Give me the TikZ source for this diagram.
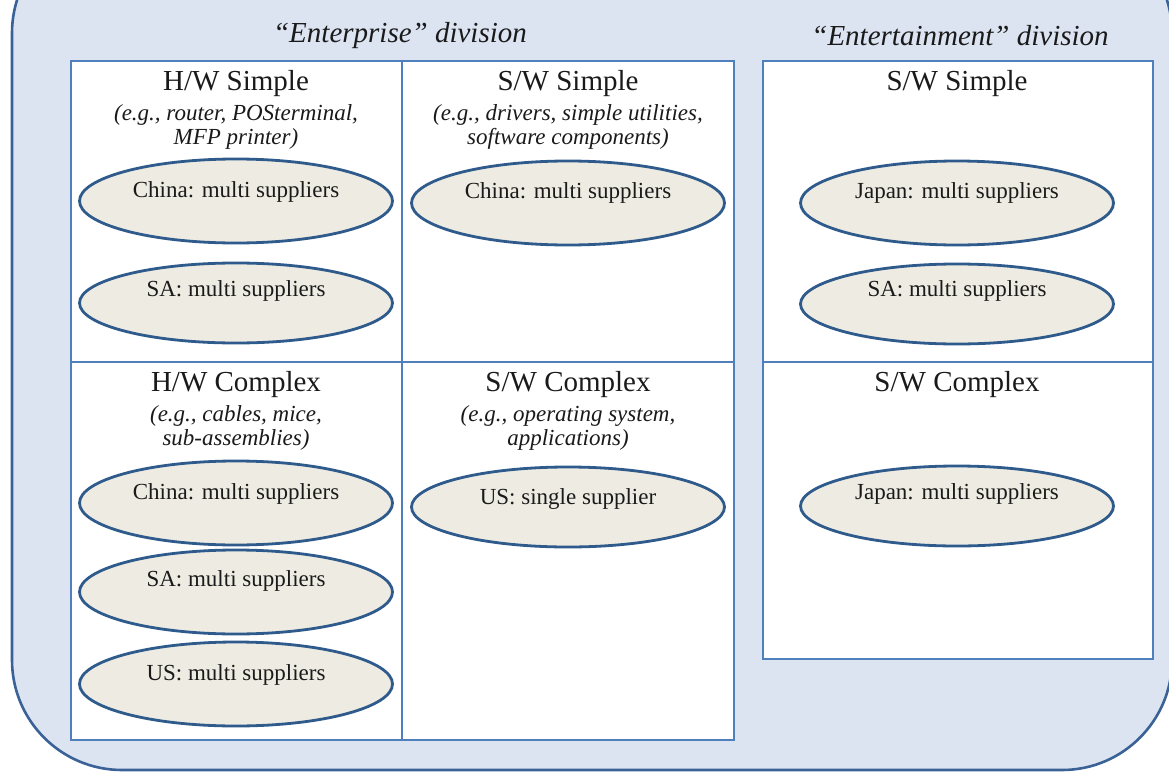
\documentclass[tikz,border=0pt]{standalone}
\usepackage{fontspec}
\setmainfont{Liberation Serif}
\usetikzlibrary{shapes.geometric}
\definecolor{panelfill}{HTML}{DCE4F2}
\definecolor{paneledge}{HTML}{3A6296}
\definecolor{gridedge}{HTML}{4F7FBC}
\definecolor{ovalfill}{HTML}{EEECE2}
\definecolor{ovaledge}{HTML}{2F5A8C}
\definecolor{ink}{HTML}{1A1A1A}
\tikzset{
  panel/.style={draw=paneledge, line width=2.6pt, fill=panelfill, rounded corners=110pt},
  cell/.style={draw=gridedge, line width=2.4pt, fill=white},
  divlabel/.style={font=\fontsize{29}{32}\selectfont\itshape, text=ink},
  celltitle/.style={font=\fontsize{29}{32}\selectfont, text=ink},
  example/.style={font=\fontsize{23}{24.5}\selectfont\itshape, text=ink, align=center, anchor=north},
  supplier/.style={ellipse, draw=ovaledge, line width=2.8pt, fill=ovalfill,
    minimum width=313pt, minimum height=84pt, inner sep=0pt},
  oval/.style={font=\fontsize{23}{26}\selectfont, text=ink}
}
\begin{document}
\begin{tikzpicture}[x=1pt,y=-1pt]
\useasboundingbox (0,0) rectangle (1169,773);
\clip (0,0) rectangle (1169,773);
% background panel
\draw[panel] (12,-77) rectangle (1172,770);

% division captions
\node[divlabel] (entdiv) at (400,36) {``Enterprise'' division};
\node[divlabel] (entmdiv) at (960,36) {``Entertainment'' division};

% enterprise grid
\draw[cell] (71,61) rectangle (734,740);
\draw[gridedge, line width=2.4pt] (402,61) -- (402,740);
\draw[gridedge, line width=2.4pt] (71,362) -- (734,362);

% entertainment grid
\draw[cell] (763,61) rectangle (1153,659);
\draw[gridedge, line width=2.4pt] (763,362) -- (1153,362);

% cell headings
\node[celltitle] (hws) at (236,84) {H/W Simple};
\node[example] (hwsx) at (236,101) {(e.g., router, POSterminal,\\MFP printer)};
\node[celltitle] (sws) at (568,84) {S/W Simple};
\node[example] (swsx) at (568,101) {(e.g., drivers, simple utilities,\\software components)};
\node[celltitle] (hwc) at (236,385) {H/W Complex};
\node[example] (hwcx) at (236,402) {(e.g., cables, mice,\\sub-assemblies)};
\node[celltitle] (swc) at (568,385) {S/W Complex};
\node[example] (swcx) at (568,402) {(e.g., operating system,\\applications)};
\node[celltitle] (ess) at (957,84) {S/W Simple};
\node[celltitle] (esc) at (957,385) {S/W Complex};

% supplier ovals
\node[supplier, label={[oval, yshift=9pt]center:China: multi suppliers}] (o1) at (236,201) {};
\node[supplier, minimum height=80pt, label={[oval, yshift=12pt]center:SA: multi suppliers}] (o2) at (236,303) {};
\node[supplier, label={[oval, yshift=10pt]center:China: multi suppliers}] (o3) at (568,203) {};
\node[supplier, label={[oval, yshift=9pt]center:China: multi suppliers}] (o4) at (236,503) {};
\node[supplier, label={[oval, yshift=11pt]center:SA: multi suppliers}] (o5) at (236,592) {};
\node[supplier, label={[oval, yshift=9pt]center:US: multi suppliers}] (o6) at (236,684) {};
\node[supplier, minimum height=80pt, label={[oval, yshift=8pt]center:US: single supplier}] (o7) at (568,507) {};
\node[supplier, label={[oval, yshift=10pt]center:Japan: multi suppliers}] (o8) at (957,203) {};
\node[supplier, minimum height=80pt, label={[oval, yshift=13pt]center:SA: multi suppliers}] (o9) at (957,304) {};
\node[supplier, minimum height=80pt, label={[oval, yshift=12pt]center:Japan: multi suppliers}] (o10) at (957,506) {};
\end{tikzpicture}
\end{document}
